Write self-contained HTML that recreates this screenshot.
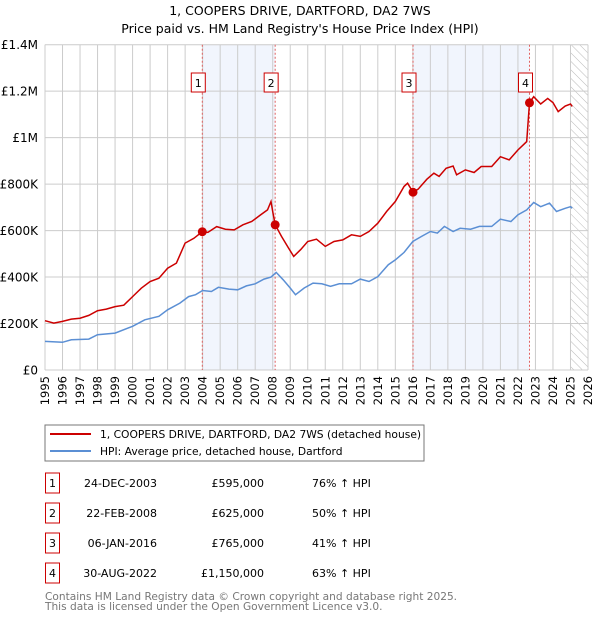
<!DOCTYPE html>
<html><head><meta charset="utf-8">
<style>
body{margin:0;background:#fff;font-family:"Liberation Sans","DejaVu Sans",sans-serif;}
#wrap{position:relative;width:600px;height:620px;overflow:hidden;}
svg text{font-family:"DejaVu Sans","Liberation Sans",sans-serif;}
</style></head>
<body><div id="wrap">
<svg id="chart" width="600" height="620" xmlns="http://www.w3.org/2000/svg">
<defs><pattern id="hatch" width="6" height="6" patternUnits="userSpaceOnUse" patternTransform="rotate(-45)"><line x1="0" y1="0" x2="0" y2="6" stroke="#bbb" stroke-width="1"/></pattern></defs>
<text x="300" y="15" text-anchor="middle" font-size="12.5" fill="#000">1, COOPERS DRIVE, DARTFORD, DA2 7WS</text>
<text x="300" y="33" text-anchor="middle" font-size="12.5" fill="#000">Price paid vs. HM Land Registry's House Price Index (HPI)</text>
<g id="plot"></g>
<rect x="45" y="425" width="379" height="36" fill="#fff" stroke="#777" stroke-width="1"/>
<line x1="50" y1="434" x2="91" y2="434" stroke="#cc0000" stroke-width="2"/>
<text x="100" y="438" font-size="10.7">1, COOPERS DRIVE, DARTFORD, DA2 7WS (detached house)</text>
<line x1="50" y1="451" x2="91" y2="451" stroke="#5b8fd4" stroke-width="2"/>
<text x="100" y="455" font-size="10.7">HPI: Average price, detached house, Dartford</text>
<g id="table"></g>
<text x="45" y="600" font-size="10.6" fill="#777">Contains HM Land Registry data © Crown copyright and database right 2025.</text>
<text x="45" y="610" font-size="10.6" fill="#777">This data is licensed under the Open Government Licence v3.0.</text>
</svg></div>
<script>
const redYears=[1995,1995.5,1996,1996.5,1997,1997.5,1998,1998.5,1999,1999.5,2000,2000.5,2001,2001.5,2002,2002.5,2003,2003.5,2003.98,2004.3,2004.8,2005.3,2005.8,2006.3,2006.8,2007.3,2007.7,2007.9,2008.0,2008.14,2008.5,2008.9,2009.2,2009.6,2010,2010.5,2011,2011.5,2012,2012.5,2013,2013.5,2014,2014.5,2015,2015.5,2015.7,2016.01,2016.3,2016.8,2017.2,2017.5,2017.9,2018.3,2018.5,2019,2019.5,2019.9,2020.5,2021,2021.5,2022,2022.5,2022.66,2022.9,2023.3,2023.7,2024,2024.3,2024.7,2025.0,2025.1];
const redValues=[212,202,209,219,223,235,255,262,273,279,316,352,381,395,438,460,546,567,595,592,617,606,603,625,639,667,689,725,682,625,575,525,489,518,553,563,532,553,560,582,575,596,632,682,725,790,804,765,778,821,847,833,868,878,840,861,850,876,876,918,904,947,983,1150,1176,1145,1169,1151,1112,1136,1145,1134];
const hpiYears=[1995,1996,1996.5,1997.5,1998,1999,2000,2000.7,2001.5,2002,2002.7,2003.2,2003.6,2004,2004.5,2004.9,2005.5,2006,2006.5,2007,2007.5,2007.9,2008.2,2008.6,2009,2009.3,2009.8,2010.3,2010.8,2011.3,2011.8,2012.5,2013,2013.5,2014,2014.6,2015,2015.5,2016,2016.5,2017,2017.4,2017.8,2018.3,2018.7,2019.3,2019.8,2020.5,2021,2021.6,2022,2022.5,2022.9,2023.3,2023.8,2024.2,2024.7,2025.0,2025.1];
const hpiValues=[123,119,130,133,152,159,188,216,231,259,288,316,324,342,338,356,348,345,362,371,391,400,420,388,353,324,353,374,371,360,371,371,391,381,402,453,474,506,553,575,596,589,618,596,610,606,618,618,649,639,668,689,721,703,718,682,696,703,696];
const saleLabels=["1","2","3","4"];
const saleYears=[2003.98,2008.14,2016.01,2022.66];
const saleValues=[595,625,765,1150];
const saleDates=["24-DEC-2003","22-FEB-2008","06-JAN-2016","30-AUG-2022"];
const salePrices=["£595,000","£625,000","£765,000","£1,150,000"];
const salePct=["76% ↑ HPI","50% ↑ HPI","41% ↑ HPI","63% ↑ HPI"];
const yTicks=[0,200,400,600,800,1000,1200,1400];
const yTickLabels=["£0","£200K","£400K","£600K","£800K","£1M","£1.2M","£1.4M"];
const xStart=1995,xEnd=2026;

const NS="http://www.w3.org/2000/svg";
const L=45,R=588,T=44.7,B=370;
const xs=y=>L+(y-xStart)/(xEnd-xStart)*(R-L);
const ys=v=>B-v/1400*(B-T);
const plot=document.getElementById('plot');
function mk(tag,attrs,parent){const e=document.createElementNS(NS,tag);for(const k in attrs)e.setAttribute(k,attrs[k]);(parent||plot).appendChild(e);return e;}
for(let i=0;i<4;i+=2){
  const r=mk('rect',{x:xs(saleYears[i]),y:T,width:xs(saleYears[i+1])-xs(saleYears[i]),height:B-T,fill:'#eef3fc',opacity:0.8});
  
  
}
const h=mk('rect',{x:xs(2025),y:T,width:R-xs(2025),height:B-T,fill:'url(#hatch)'});


for(let yr=xStart;yr<=xEnd;yr++){
  const g=mk('line',{x1:xs(yr),x2:xs(yr),y1:T,y2:B,stroke:'#ccc','stroke-width':1});
  
  
  const t=mk('text',{x:0,y:0,'font-size':11.5,'text-anchor':'end',transform:`translate(${xs(yr)+4},${B+6}) rotate(-90)`});
  t.textContent=yr;
  
  
}
yTicks.forEach((v,i)=>{
  const g=mk('line',{x1:L,x2:R,y1:ys(v),y2:ys(v),stroke:'#ccc','stroke-width':1});
  
  
  const t=mk('text',{x:38,y:ys(v)+4.5,'font-size':12,'text-anchor':'end'});
  t.textContent=yTickLabels[i];
  
  
});
mk('line',{x1:L,x2:L,y1:T,y2:B,stroke:'#ccc'});
mk('line',{x1:L,x2:R,y1:B,y2:B,stroke:'#ccc'});
saleYears.forEach((yr,i)=>{
  const l=mk('line',{x1:xs(yr),x2:xs(yr),y1:T,y2:B,stroke:'#e06060','stroke-width':1,'stroke-dasharray':'2,2'});
  
  
  const b=mk('rect',{x:xs(yr)-11,y:73,width:14,height:19,fill:'#fff',stroke:'#cc0000','stroke-width':1});
  
  
  const t=mk('text',{x:xs(yr)-4,y:87,'font-size':11,'text-anchor':'middle'});
  t.textContent=saleLabels[i];
  
  
});
function path(xa,va){return xa.map((x,i)=>(i?'L':'M')+xs(x).toFixed(1)+','+ys(va[i]).toFixed(1)).join('');}
const hp=mk('path',{d:path(hpiYears,hpiValues),fill:'none',stroke:'#5b8fd4','stroke-width':1.5});


const rp=mk('path',{d:path(redYears,redValues),fill:'none',stroke:'#cc0000','stroke-width':1.5});


saleYears.forEach((yr,i)=>{
  const c=mk('circle',{cx:xs(yr),cy:ys(saleValues[i]),r:4.5,fill:'#cc0000'});
  
  
});
const tb=document.getElementById('table');
saleLabels.forEach((lab,i)=>{
  const y=483+i*30;
  const b=mk('rect',{x:45.5,y:y-10,width:14,height:20,fill:'#fff',stroke:'#cc0000','stroke-width':1},tb);
  
  
  const cells=[[52.5,lab,'middle'],[157,saleDates[i],'end'],[264,salePrices[i],'end'],[312,salePct[i],'start']];
  cells.forEach((c,j)=>{
    const t=mk('text',{x:c[0],y:y+4,'font-size':11,'text-anchor':c[2]},tb);
    t.textContent=c[1];
    
    
  });
});
</script>
</body></html>
